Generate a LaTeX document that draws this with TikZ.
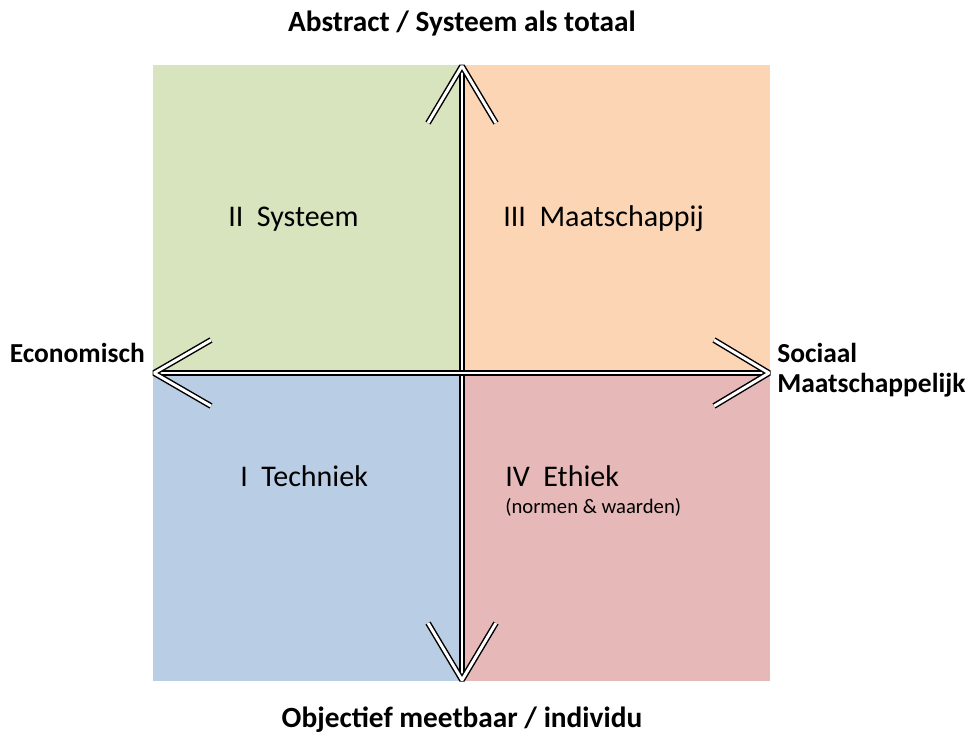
\documentclass[tikz,border=0pt]{standalone}
\usepackage{fontspec}
\setmainfont{Carlito}
\begin{document}
\begin{tikzpicture}[x=0.75pt,y=-0.75pt,
  dbl/.style={line width=1.1pt,double=white,double distance=2.2pt,line join=bevel},
  qlabel/.style={font=\fontsize{22.5}{27}\selectfont,anchor=base west,inner sep=0pt},
  axlabel/.style={font=\fontsize{20.6}{25}\selectfont\bfseries,inner sep=0pt}]
\useasboundingbox (0,0) rectangle (968,736);
\definecolor{qgreen}{HTML}{D7E4BD}
\definecolor{qorange}{HTML}{FCD5B5}
\definecolor{qblue}{HTML}{B9CDE5}
\definecolor{qpink}{HTML}{E6B9B8}
\fill[qgreen] (153,65) rectangle (462,373);
\fill[qorange] (462,65) rectangle (770,373);
\fill[qblue] (153,373) rectangle (462,681);
\fill[qpink] (462,373) rectangle (770,681);
\coordinate (top) at (462,66);
\coordinate (bot) at (462,680);
\coordinate (lft) at (154,373);
\coordinate (rgt) at (769,373);
\coordinate (tl) at (428,123);
\coordinate (tr) at (496,123);
\coordinate (bl) at (428,623);
\coordinate (br) at (496,623);
\coordinate (ll1) at (211,340);
\coordinate (ll2) at (211,406);
\coordinate (rr1) at (714,340);
\coordinate (rr2) at (714,406);
\draw[dbl] (top) -- (bot);
\draw[dbl] (lft) -- (rgt);
\draw[dbl] (tl) -- (top) -- (tr);
\draw[dbl] (bl) -- (bot) -- (br);
\draw[dbl] (ll1) -- (lft) -- (ll2);
\draw[dbl] (rr1) -- (rgt) -- (rr2);
\node[qlabel] (q2) at (228,226) {II\ \ Systeem};
\node[qlabel] (q3) at (503,226) {III\ \ Maatschappij};
\node[qlabel] (q1) at (240,486) {I\ \ Techniek};
\node[qlabel] (q4) at (505,486) {IV\ \ Ethiek};
\node[qlabel,font=\fontsize{15.5}{19}\selectfont] (q4b) at (505,513) {(normen \& waarden)};
\node[axlabel,font=\fontsize{22}{26}\selectfont\bfseries] (ttl) at (462,24) {Abstract / Systeem als totaal};
\node[axlabel,font=\fontsize{22}{26}\selectfont\bfseries] (btl) at (462,720) {Objectief meetbaar / individu};
\node[axlabel,anchor=base east] (eco) at (145,362) {Economisch};
\node[axlabel,anchor=base west] (soc) at (777,362) {Sociaal};
\node[axlabel,anchor=base west] (maat) at (777,392) {Maatschappelijk};
\end{tikzpicture}
\end{document}
